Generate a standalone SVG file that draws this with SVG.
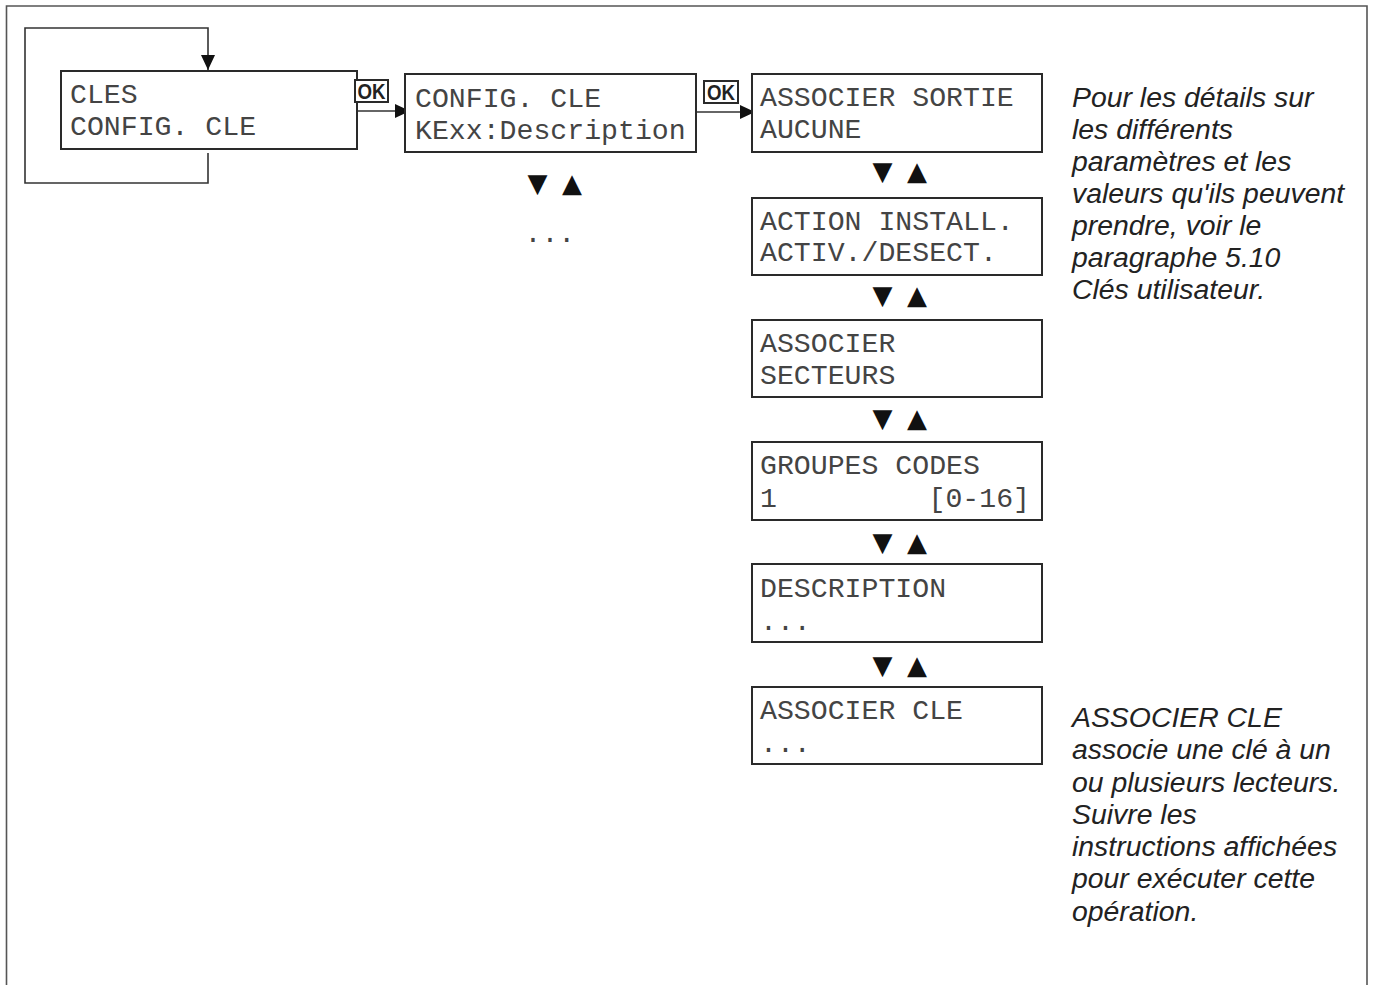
<svg xmlns="http://www.w3.org/2000/svg" width="1373" height="985" viewBox="0 0 1373 985">
<style>
.box{fill:#fff;stroke:#2a2a2a;stroke-width:2}
.mono{font-family:"Liberation Mono","Courier New",monospace;font-size:28.2px;fill:#444}
.note{font-family:"Liberation Sans",Arial,sans-serif;font-size:28.4px;font-style:italic;fill:#222}
.ok{fill:#fff;stroke:#2a2a2a;stroke-width:2}
.oktxt{font-family:"Liberation Sans",Arial,sans-serif;font-size:22px;font-weight:bold;fill:#222}
.line{fill:none;stroke:#333;stroke-width:1.6}
.nav{font-family:"DejaVu Sans",sans-serif;font-size:26px;fill:#111}
</style>
<defs>
<marker id="ah" markerWidth="16" markerHeight="14" refX="15" refY="7" orient="auto" markerUnits="userSpaceOnUse">
<path d="M0,0 L15,7 L0,14 Z" fill="#111"/>
</marker>
</defs>
<rect x="0" y="0" width="1373" height="985" fill="#fff"/>
<path d="M6.5,990 V6 H1367 V990" fill="none" stroke="#555" stroke-width="1.6"/>

<g id="connectors">
<path class="line" d="M208,153 V183 H25 V28 H208 V70" marker-end="url(#ah)"/>
<path class="line" d="M357,111 H410" marker-end="url(#ah)"/>
<path class="line" d="M696,112 H755" marker-end="url(#ah)"/>
</g>

<g id="node-cles">
<rect class="box" x="61" y="71" width="296" height="78"/>
<text class="mono" x="70" y="103">CLES</text>
<text class="mono" x="70" y="135">CONFIG. CLE</text>
</g>
<g id="ok-1">
<rect class="ok" x="355" y="80" width="33" height="22"/>
<text class="oktxt" x="357.5" y="99" textLength="28" lengthAdjust="spacingAndGlyphs">OK</text>
</g>

<g id="node-config-cle">
<rect class="box" x="405" y="74" width="291" height="78"/>
<text class="mono" x="415" y="107">CONFIG. CLE</text>
<text class="mono" x="415" y="139">KExx:Description</text>
</g>
<g id="ok-2">
<rect class="ok" x="704" y="81" width="34" height="22"/>
<text class="oktxt" x="707" y="100" textLength="28" lengthAdjust="spacingAndGlyphs">OK</text>
</g>
<g id="nav-config">
<text class="nav" x="537.5" y="192" text-anchor="middle">▼</text>
<text class="nav" x="572" y="192" text-anchor="middle">▲</text>
<text class="mono" x="524.5" y="242">...</text>
</g>

<g id="node-associer-sortie">
<rect class="box" x="752" y="74" width="290" height="78"/>
<text class="mono" x="760" y="106">ASSOCIER SORTIE</text>
<text class="mono" x="760" y="138">AUCUNE</text>
</g>
<g id="nav-1">
<text class="nav" x="882.5" y="180" text-anchor="middle">▼</text>
<text class="nav" x="917" y="180" text-anchor="middle">▲</text>
</g>

<g id="node-action-install">
<rect class="box" x="752" y="198" width="290" height="77"/>
<text class="mono" x="760" y="230">ACTION INSTALL.</text>
<text class="mono" x="760" y="261">ACTIV./DESECT.</text>
</g>
<g id="nav-2">
<text class="nav" x="882.5" y="304" text-anchor="middle">▼</text>
<text class="nav" x="917" y="304" text-anchor="middle">▲</text>
</g>

<g id="node-associer-secteurs">
<rect class="box" x="752" y="320" width="290" height="77"/>
<text class="mono" x="760" y="352">ASSOCIER</text>
<text class="mono" x="760" y="384">SECTEURS</text>
</g>
<g id="nav-3">
<text class="nav" x="882.5" y="427" text-anchor="middle">▼</text>
<text class="nav" x="917" y="427" text-anchor="middle">▲</text>
</g>

<g id="node-groupes-codes">
<rect class="box" x="752" y="442" width="290" height="78"/>
<text class="mono" x="760" y="474">GROUPES CODES</text>
<text class="mono" x="760" y="507">1</text>
<text class="mono" x="1030" y="507" text-anchor="end">[0-16]</text>
</g>
<g id="nav-4">
<text class="nav" x="882.5" y="551" text-anchor="middle">▼</text>
<text class="nav" x="917" y="551" text-anchor="middle">▲</text>
</g>

<g id="node-description">
<rect class="box" x="752" y="564" width="290" height="78"/>
<text class="mono" x="760" y="597">DESCRIPTION</text>
<text class="mono" x="760" y="630">...</text>
</g>
<g id="nav-5">
<text class="nav" x="882.5" y="674" text-anchor="middle">▼</text>
<text class="nav" x="917" y="674" text-anchor="middle">▲</text>
</g>

<g id="node-associer-cle">
<rect class="box" x="752" y="687" width="290" height="77"/>
<text class="mono" x="760" y="719">ASSOCIER CLE</text>
<text class="mono" x="760" y="752">...</text>
</g>

<g id="note-1">
<text class="note" x="1072" y="107">Pour les détails sur</text>
<text class="note" x="1072" y="139">les différents</text>
<text class="note" x="1072" y="171">paramètres et les</text>
<text class="note" x="1072" y="203">valeurs qu'ils peuvent</text>
<text class="note" x="1072" y="235">prendre, voir le</text>
<text class="note" x="1072" y="267">paragraphe 5.10</text>
<text class="note" x="1072" y="299">Clés utilisateur.</text>
</g>
<g id="note-2">
<text class="note" x="1072" y="727">ASSOCIER CLE</text>
<text class="note" x="1072" y="759">associe une clé à un</text>
<text class="note" x="1072" y="792">ou plusieurs lecteurs.</text>
<text class="note" x="1072" y="824">Suivre les</text>
<text class="note" x="1072" y="856">instructions affichées</text>
<text class="note" x="1072" y="888">pour exécuter cette</text>
<text class="note" x="1072" y="921">opération.</text>
</g>
</svg>
